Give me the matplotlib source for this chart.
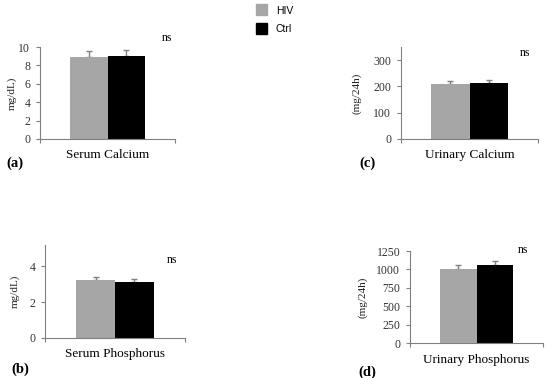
import matplotlib.pyplot as plt

groups = ["HIV", "Ctrl"]
colors = ["#a6a6a6", "#000000"]

titles = ["Serum Calcium", "Serum Phosphorus", "Urinary Calcium", "Urinary Phosphorus"]
letters = ["(a)", "(b)", "(c)", "(d)"]
ylabels = ["mg/dL)", "mg/dL)", "(mg/24h)", "(mg/24h)"]

means = [[8.9, 9.05], [3.22, 3.12], [210, 213], [1000, 1065]]
errs = [[0.7, 0.6], [0.2, 0.18], [11, 10], [60, 55]]
ylims = [10, 5.2, 350, 1250]
yticks = [[0, 2, 4, 6, 8, 10], [0, 2, 4], [0, 100, 200, 300], [0, 250, 500, 750, 1000, 1250]]

W, H = 550, 378
# axes boxes in pixels: left, right, top, bottom
boxes = [(40, 175, 47, 139), (45, 185, 245, 338), (401, 538, 47, 139), (410, 543, 251, 343)]
ylabel_x = [12, 15, 357, 363]
letter_pos = [(15, 163), (20, 369), (368, 163), (367, 372)]
title_y = [155, 354, 155, 360]
ns_pos = [(167, 38), (172, 260), (525, 53), (523, 250)]

serif = "Liberation Serif"
axcol = "#808080"

fig = plt.figure(figsize=(W / 100, H / 100), dpi=100)

for i in range(4):
    l, r, t, b = boxes[i]
    ax = fig.add_axes([l / W, 1 - b / H, (r - l) / W, (b - t) / H])
    for j in range(2):
        ax.bar(j, means[i][j], width=1, color=colors[j], zorder=2)
        ax.errorbar(j, means[i][j], yerr=[[0], [errs[i][j]]], ecolor=axcol,
                    elinewidth=1, capsize=2.5, capthick=1, fmt="none", zorder=1)
    ax.set_xlim(-1.3, 2.3)
    ax.set_ylim(0, ylims[i])
    ax.set_yticks(yticks[i])
    ax.set_xticks([-1.3, 2.3])
    ax.set_xticklabels([])
    for s in ["top", "right"]:
        ax.spines[s].set_visible(False)
    for s in ["left", "bottom"]:
        ax.spines[s].set_color(axcol)
        ax.spines[s].set_linewidth(0.8)
    ax.tick_params(axis="both", colors=axcol, length=3, width=0.8, labelsize=8.5, pad=4)
    for lab in ax.get_yticklabels():
        lab.set_color("#333333")
        lab.set_fontfamily(serif)
    fig.text(ylabel_x[i] / W, 1 - ((t + b) / 2) / H, ylabels[i], rotation=90,
             ha="center", va="center", fontsize=8, family=serif, color="#222222")
    fig.text(((l + r) / 2) / W, 1 - title_y[i] / H, titles[i], ha="center", va="center",
             fontsize=9.5, family=serif)
    fig.text(letter_pos[i][0] / W, 1 - letter_pos[i][1] / H, letters[i], ha="center",
             va="center", fontsize=10.5, family=serif, fontweight="bold")
    fig.text(ns_pos[i][0] / W, 1 - ns_pos[i][1] / H, "ns", ha="center", va="center",
             fontsize=8.5, family=serif)

# legend
leg_y = [9.5, 28.5]
for j in range(2):
    fig.patches.append(plt.Rectangle((256 / W, 1 - (leg_y[j] + 5.5) / H), 11 / W, 11 / H,
                                     transform=fig.transFigure, color=colors[j]))
    fig.text(276 / W, 1 - (leg_y[j] + 1) / H, groups[j], ha="left", va="center",
             fontsize=7.5, family="Liberation Sans")

fig.savefig("out.png", dpi=100)
